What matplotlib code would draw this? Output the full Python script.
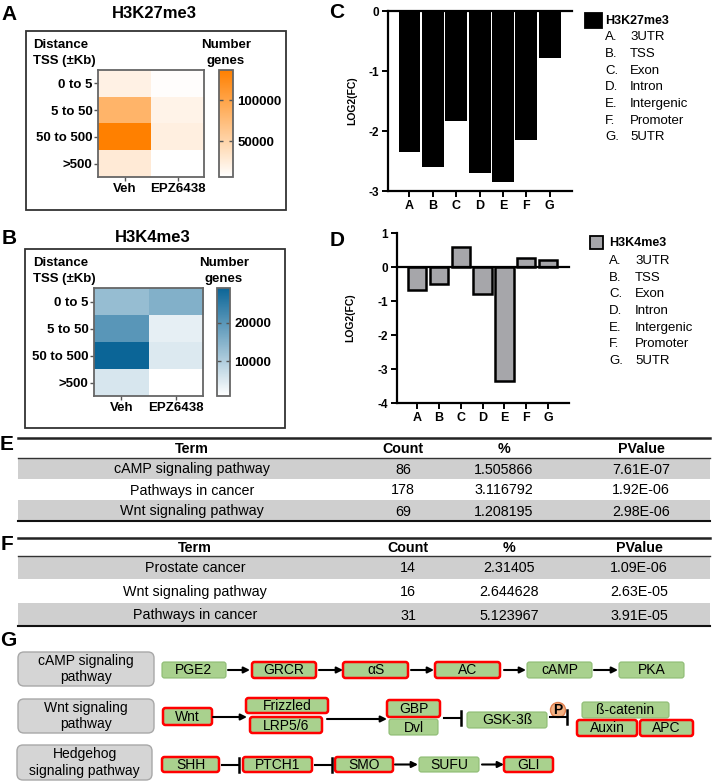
import numpy as np
import matplotlib
matplotlib.use("Agg")
import matplotlib.pyplot as plt
from matplotlib.colors import LinearSegmentedColormap
from matplotlib.patches import Rectangle, FancyBboxPatch, Circle

plt.rcParams['font.family'] = ['Liberation Sans', 'DejaVu Sans']

W, H = 712, 782

# ---------------- Data ----------------
dist_rows = ['0 to 5', '5 to 50', '50 to 500', '>500']
treat_cols = ['Veh', 'EPZ6438']
k27_veh = [20000, 83000, 137000, 27000]
k27_epz = [8000, 18000, 22000, 6000]
k4_veh = [13000, 20000, 29200, 5400]
k4_epz = [15300, 3700, 4800, 800]

region_letters = ['A', 'B', 'C', 'D', 'E', 'F', 'G']
region_names = ['3UTR', 'TSS', 'Exon', 'Intron', 'Intergenic', 'Promoter', '5UTR']
k27_fc = [-2.35, -2.6, -1.83, -2.7, -2.85, -2.15, -0.78]
k4_fc = [-0.67, -0.5, 0.58, -0.78, -3.35, 0.27, 0.22]

tab_header = ['Term', 'Count', '%', 'PValue']
e_terms = ['cAMP signaling pathway', 'Pathways in cancer', 'Wnt signaling pathway']
e_counts = [86, 178, 69]
e_pct = ['1.505866', '3.116792', '1.208195']
e_pval = ['7.61E-07', '1.92E-06', '2.98E-06']
f_terms = ['Prostate cancer', 'Wnt signaling pathway', 'Pathways in cancer']
f_counts = [14, 16, 31]
f_pct = ['2.31405', '2.644628', '5.123967']
f_pval = ['1.09E-06', '2.63E-05', '3.91E-05']

pathways = ['cAMP signaling\npathway', 'Wnt signaling\npathway', 'Hedgehog\nsignaling pathway']
camp_nodes = ['PGE2', 'GRCR', 'αS', 'AC', 'cAMP', 'PKA']
camp_hit = [False, True, True, True, False, False]
wnt_nodes = ['Wnt', 'Frizzled', 'LRP5/6', 'GBP', 'Dvl', 'GSK-3ß', 'ß-catenin', 'Auxin', 'APC']
wnt_hit = [True, True, True, True, False, False, False, True, True]
hh_nodes = ['SHH', 'PTCH1', 'SMO', 'SUFU', 'GLI']
hh_hit = [True, True, True, False, True]


def rect(x0, y0, x1, y1):
    return [x0 / W, 1 - y1 / H, (x1 - x0) / W, (y1 - y0) / H]


fig = plt.figure(figsize=(W / 100, H / 100), dpi=100)
ax0 = fig.add_axes([0, 0, 1, 1])
ax0.set_xlim(0, W)
ax0.set_ylim(H, 0)
ax0.axis('off')

# ---------------- Heatmaps (A, B) ----------------
orange = LinearSegmentedColormap.from_list('wo', ['#FFFFFF', '#FF8000'])
blue = LinearSegmentedColormap.from_list('wb', ['#FFFFFF', '#0B6597'])


def heat_panel(letter, title, veh, epz, cmap, vmin, vmax, ticks, frame, hm, cb, ty, lx):
    fx0, fy0, fx1, fy1 = frame
    ax0.add_patch(Rectangle((fx0, fy0), fx1 - fx0, fy1 - fy0, fill=False,
                            edgecolor='#333333', lw=1.3))
    ax0.text(9, ty, letter, fontsize=15, fontweight='bold', ha='center', va='center')
    ax0.text((fx0 + fx1) / 2 - 2, ty, title, fontsize=12, fontweight='bold',
             ha='center', va='center')
    ax0.text(33, fy0 + 14, 'Distance', fontsize=9.5, fontweight='bold', va='center')
    ax0.text(33, fy0 + 30, 'TSS (±Kb)', fontsize=9.5, fontweight='bold', va='center')
    ax0.text(lx, fy0 + 14, 'Number', fontsize=9.5, fontweight='bold', ha='center', va='center')
    ax0.text(lx, fy0 + 30, 'genes', fontsize=9.5, fontweight='bold', ha='center', va='center')

    ax = fig.add_axes(rect(*hm))
    data = np.column_stack([veh, epz])
    im = ax.imshow(data, cmap=cmap, vmin=vmin, vmax=vmax, aspect='auto',
                   interpolation='nearest')
    ax.set_yticks(range(len(dist_rows)))
    ax.set_yticklabels(dist_rows, fontsize=9.5, fontweight='bold')
    ax.set_xticks(range(len(treat_cols)))
    ax.set_xticklabels(treat_cols, fontsize=9.5, fontweight='bold')
    ax.tick_params(length=3, width=1, pad=1, color='#555555')
    for s in ax.spines.values():
        s.set_edgecolor('#666666')
        s.set_linewidth(1.3)

    cax = fig.add_axes(rect(*cb))
    cbar = fig.colorbar(im, cax=cax)
    cbar.set_ticks(ticks)
    cbar.outline.set_edgecolor('#666666')
    cbar.outline.set_linewidth(1.3)
    cax.tick_params(axis='y', left=True, right=True, direction='in', length=3,
                    width=1, pad=3, labelsize=9.5, color='#555555')
    for t in cax.get_yticklabels():
        t.set_fontweight('bold')


heat_panel('A', 'H3K27me3', k27_veh, k27_epz, orange, 6000, 137000, [50000, 100000],
           (26, 31, 286, 210), (98, 70, 204, 177), (219, 70, 233, 177), 14, 226)
heat_panel('B', 'H3K4me3', k4_veh, k4_epz, blue, 800, 29200, [10000, 20000],
           (25, 249, 285, 428), (94, 288, 203, 396), (217, 288, 230, 396), 238, 224)

# ---------------- Bar charts (C, D) ----------------


def bar_panel(letter, ly, vals, axr, ylim, width, color, edge, lw, ylabel_x):
    ax = fig.add_axes(rect(*axr))
    x = np.arange(len(vals))
    ax.bar(x, vals, width=width, color=color, edgecolor=edge, linewidth=lw, zorder=2)
    ax.axhline(0, color='black', lw=1.6, zorder=3, clip_on=False)
    ax.set_ylim(*ylim)
    ax.set_xlim(-0.92, len(vals) - 0.04)
    ax.set_yticks(np.arange(ylim[0], ylim[1] + 1))
    ax.set_yticklabels([f'{int(v)}' for v in np.arange(ylim[0], ylim[1] + 1)],
                       fontsize=8.5, fontweight='bold')
    ax.set_xticks(x)
    ax.set_xticklabels(region_letters, fontsize=9, fontweight='bold')
    for s in ['top', 'right']:
        ax.spines[s].set_visible(False)
    for s in ['left', 'bottom']:
        ax.spines[s].set_linewidth(1.6)
    ax.tick_params(length=4.5, width=1.4, pad=2)
    ax0.text(ylabel_x, (axr[1] + axr[3]) / 2, 'LOG2(FC)', rotation=90, fontsize=7.5,
             fontweight='bold', ha='center', va='center')
    ax0.text(337, ly, letter, fontsize=15, fontweight='bold', ha='center', va='center')


bar_panel('C', 12, k27_fc, (388, 11, 572, 191), (-3, 0), 0.94, 'black', 'black', 0, 352)
bar_panel('D', 240, k4_fc, (397, 233, 569, 403), (-4, 1), 0.84, '#A6A6AA', 'black', 1.8, 350)


def legend_block(title, sq, fc, tx, ty, lx, nx, rows):
    ax0.add_patch(Rectangle((sq[0], sq[1]), sq[2] - sq[0], sq[3] - sq[1], facecolor=fc,
                            edgecolor='black', lw=1.3))
    ax0.text(tx, ty, title, fontsize=9, fontweight='bold', va='center')
    for i, (l, n) in enumerate(zip(region_letters, region_names)):
        ax0.text(lx, rows[i], l + '.', fontsize=9.5, va='center')
        ax0.text(nx, rows[i], n, fontsize=9.5, va='center')


legend_block('H3K27me3', (585, 13, 602, 28), 'black', 605, 21, 605, 630,
             [37, 54, 71, 87, 104, 121, 137])
legend_block('H3K4me3', (590, 236, 603, 249), '#A6A6AA', 609, 243, 609, 635,
             [261, 278, 294, 311, 328, 344, 361])

# ---------------- Tables (E, F) ----------------


def table(letter, top, hdr, rows_y, cols_x, terms, counts, pct, pval):
    x0, x1 = 18, 710
    ax0.text(7, top + 7, letter, fontsize=15, fontweight='bold', ha='center', va='center')
    for i in range(3):
        if i != 1:
            ax0.add_patch(Rectangle((x0, rows_y[i]), x1 - x0, rows_y[i + 1] - rows_y[i],
                                    facecolor='#CFCFCF', edgecolor='none'))
    ax0.plot([x0, x1], [top, top], color='#222222', lw=1.8)
    ax0.plot([x0, x1], [hdr, hdr], color='#333333', lw=1.0)
    ax0.plot([x0, x1], [rows_y[-1], rows_y[-1]], color='#111111', lw=1.5)
    hy = (top + hdr) / 2 + 1
    for j, h in enumerate(tab_header):
        ax0.text(cols_x[j], hy, h, fontsize=10.3, fontweight='bold', ha='center', va='center')
    for i in range(3):
        cy = (rows_y[i] + rows_y[i + 1]) / 2 + 1
        vals = [terms[i], str(counts[i]), pct[i], pval[i]]
        for j, v in enumerate(vals):
            ax0.text(cols_x[j], cy, v, fontsize=10.3, ha='center', va='center')


table('E', 438, 458, [458, 479, 500, 521], [192, 403, 504, 641],
      e_terms, e_counts, e_pct, e_pval)
table('F', 538, 556, [556, 579, 603, 626], [195, 408, 509, 639],
      f_terms, f_counts, f_pct, f_pval)

# ---------------- Pathway diagram (G) ----------------
ax0.text(8, 640, 'G', fontsize=15, fontweight='bold', ha='center', va='center')
gray_boxes = [(18, 154, 652, 686), (18, 154, 699, 733), (17, 152, 745, 780)]
for (bx0, bx1, by0, by1), name in zip(gray_boxes, pathways):
    ax0.add_patch(FancyBboxPatch((bx0, by0), bx1 - bx0, by1 - by0,
                                 boxstyle='round,pad=0,rounding_size=6',
                                 facecolor='#D5D5D5', edgecolor='#A8A8A8', lw=1))
    ax0.text((bx0 + bx1) / 2, (by0 + by1) / 2, name, fontsize=10, ha='center',
             va='center', linespacing=1.25)


def node(name, hit, x0, x1, y0, y1):
    ax0.add_patch(FancyBboxPatch((x0, y0), x1 - x0, y1 - y0,
                                 boxstyle='round,pad=0,rounding_size=2.5',
                                 facecolor='#A9D18E',
                                 edgecolor='#FF0000' if hit else '#8DBB72',
                                 lw=1.8 if hit else 0.8))
    ax0.text((x0 + x1) / 2, (y0 + y1) / 2 + 0.5, name, fontsize=10, ha='center', va='center')


def arrow(x0, x1, y):
    ax0.annotate('', xy=(x1, y), xytext=(x0, y),
                 arrowprops=dict(arrowstyle='-|>', color='black', lw=1.5,
                                 mutation_scale=9, shrinkA=0, shrinkB=0))


def inhibit(x0, x1, y, h=7):
    ax0.plot([x0, x1], [y, y], color='black', lw=1.5)
    ax0.plot([x1, x1], [y - h, y + h], color='black', lw=1.8)


camp_pos = [(162, 226), (252, 316), (343, 408), (435, 500), (527, 592), (619, 684)]
for n, h, (a, b) in zip(camp_nodes, camp_hit, camp_pos):
    node(n, h, a, b, 662, 678)
for a, b in [(228, 250), (319, 343), (411, 434), (504, 526), (594, 618)]:
    arrow(a, b, 670)

wnt_pos = [(163, 212, 708, 725), (246, 328, 698, 713), (250, 322, 717, 733),
           (387, 440, 700, 717), (389, 438, 719, 735), (467, 547, 712, 728),
           (582, 669, 702, 718), (577, 637, 720, 736), (640, 693, 720, 736)]
for n, h, (a, b, c, d) in zip(wnt_nodes, wnt_hit, wnt_pos):
    node(n, h, a, b, c, d)
arrow(213, 247, 717)
arrow(327, 387, 719)
inhibit(444, 461, 718)
inhibit(550, 567, 717)
ax0.add_patch(Circle((558, 710), 7.5, facecolor='#F4B183', edgecolor='#E08050', lw=1))
ax0.text(558, 710.5, 'P', fontsize=10, fontweight='bold', ha='center', va='center')

hh_pos = [(162, 219), (243, 312), (335, 393), (419, 479), (504, 553)]
for n, h, (a, b) in zip(hh_nodes, hh_hit, hh_pos):
    node(n, h, a, b, 757, 772)
inhibit(222, 239, 764.5)
inhibit(315, 332, 764.5)
arrow(395, 418, 764.5)
arrow(482, 504, 764.5)

fig.savefig('out.png', dpi=100)
